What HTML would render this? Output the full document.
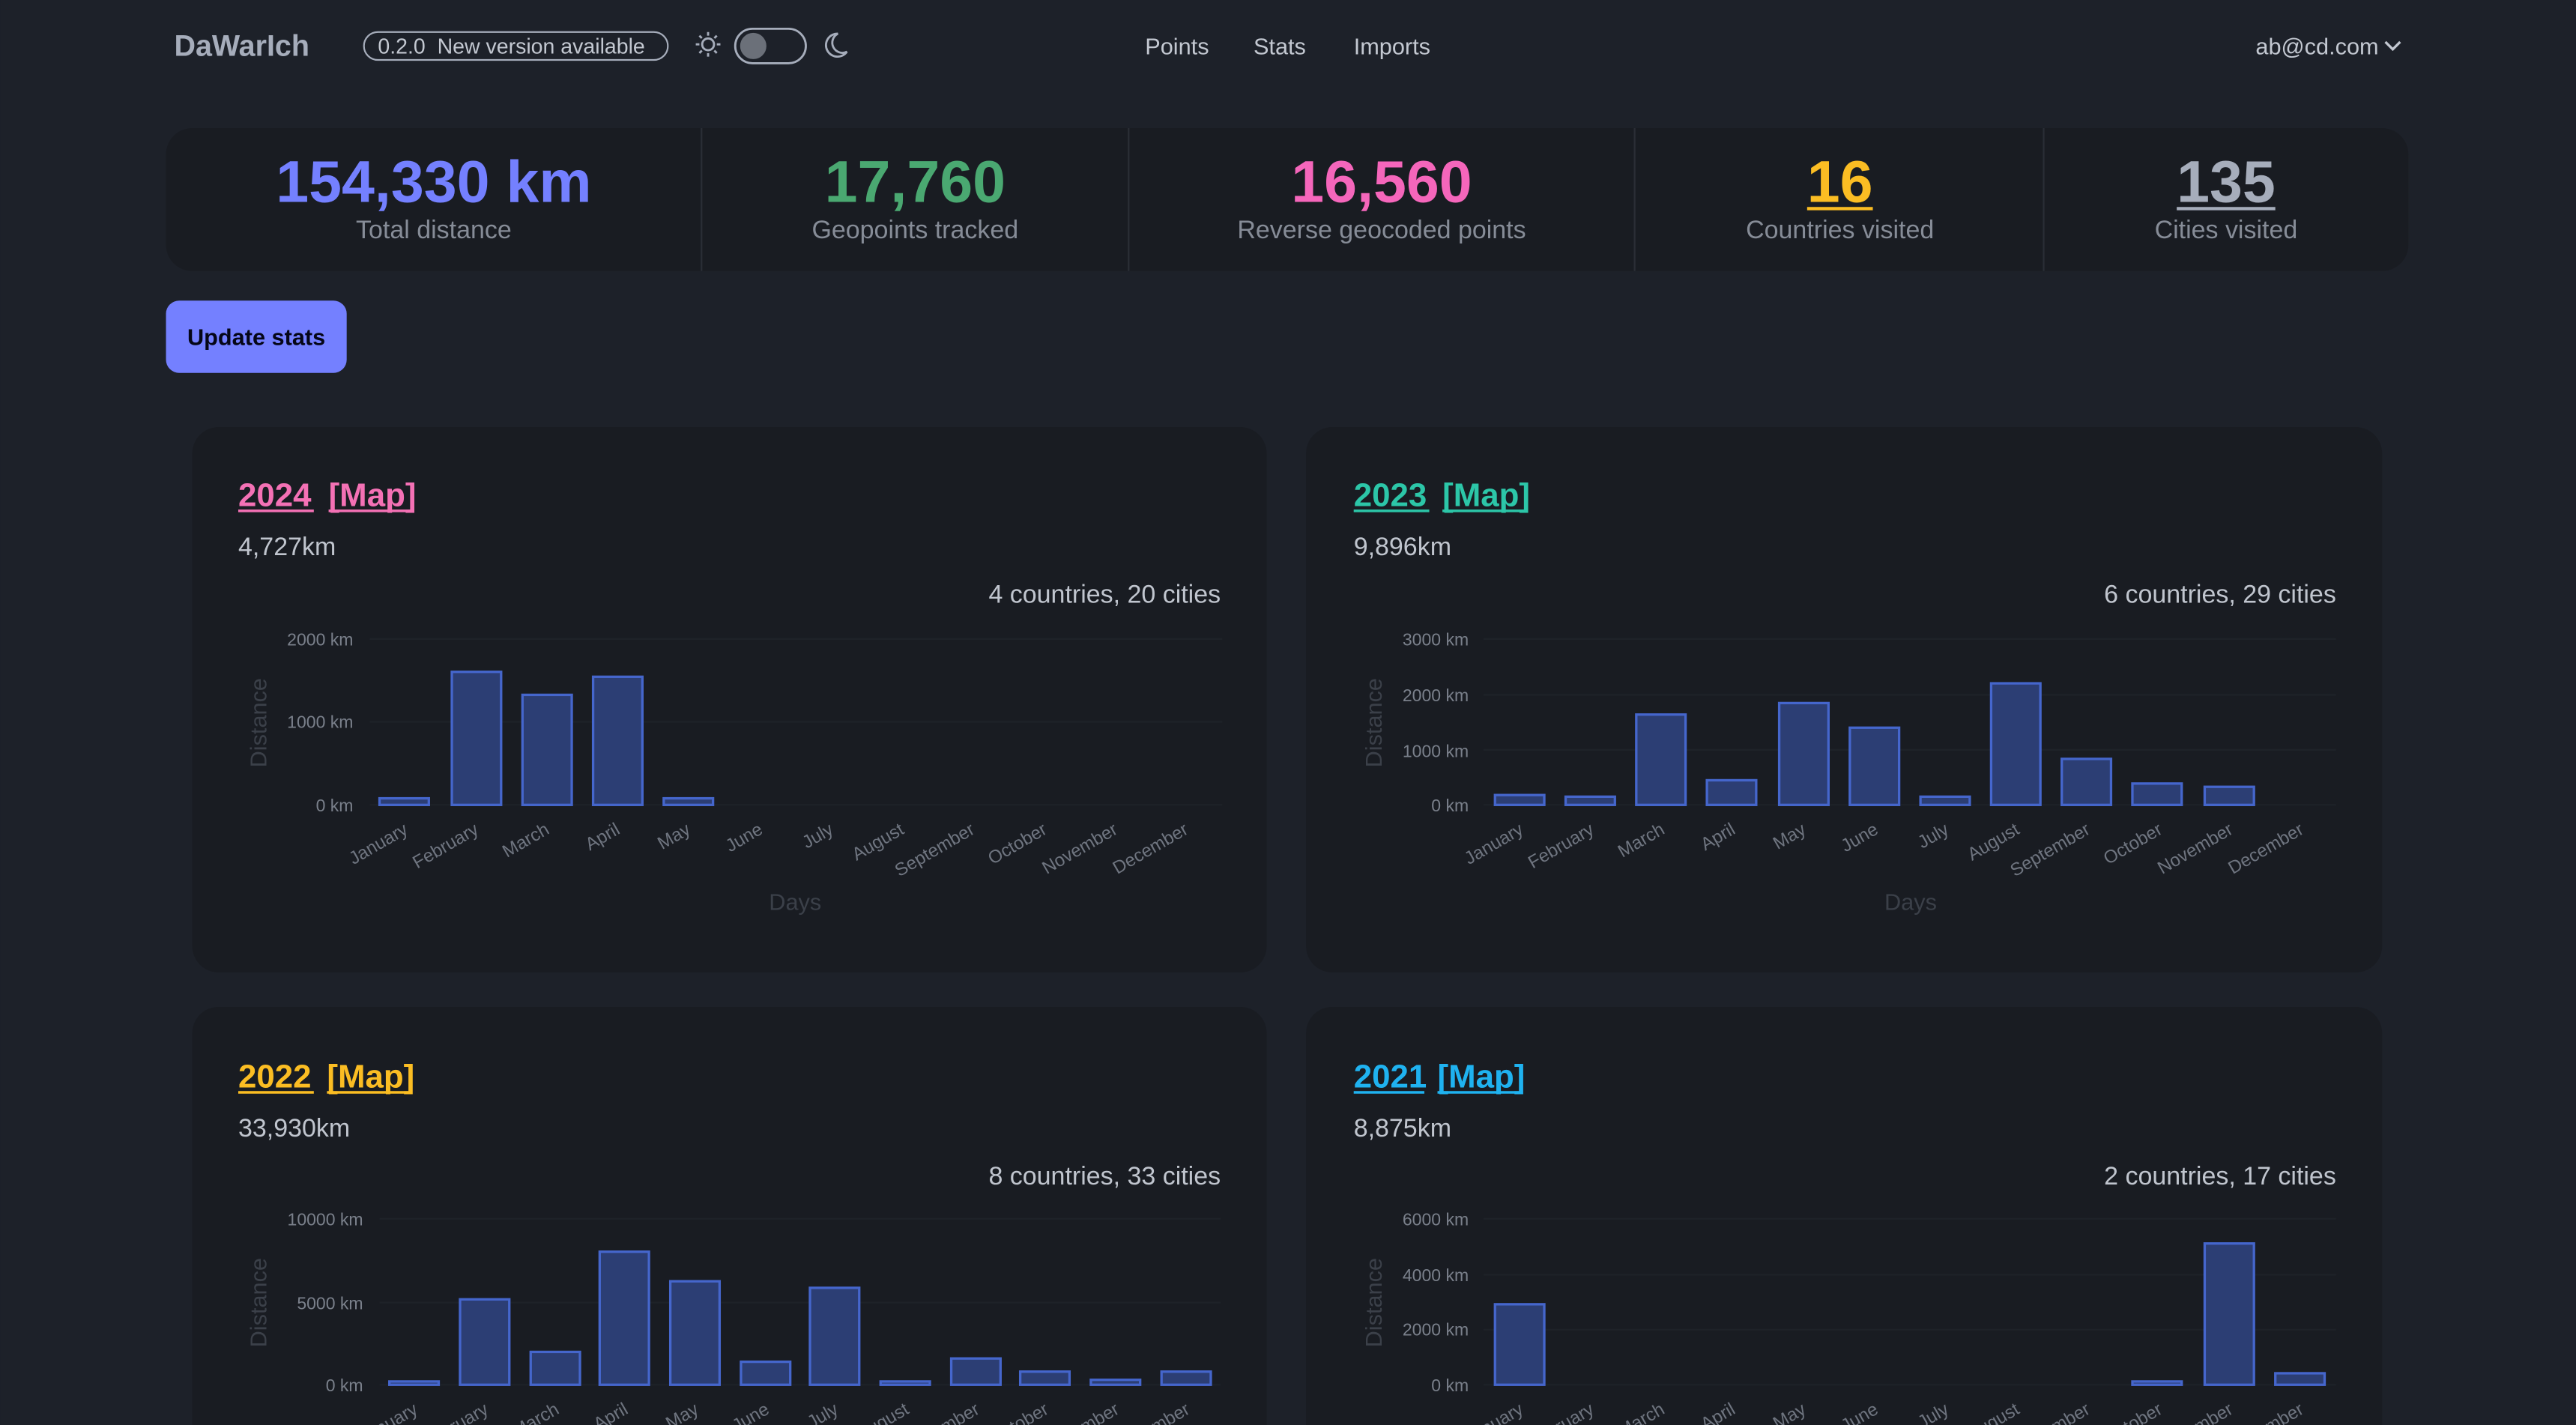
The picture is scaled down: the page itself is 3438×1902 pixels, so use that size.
<!DOCTYPE html>
<html><head><meta charset="utf-8"><style>
html,body{margin:0;padding:0;background:#1d2129;overflow:hidden;width:3438px;height:1902px}
svg{display:block}
text{font-family:"Liberation Sans",sans-serif}
</style></head><body>
<svg width="3438" height="1902" viewBox="0 0 1568 867.5" xmlns="http://www.w3.org/2000/svg">
<rect width="1568" height="868" fill="#1d2129"/>
<text x="106" y="34" font-size="18" font-weight="bold" fill="#a6adbb">DaWarIch</text>
<rect x="221.5" y="19.5" width="185" height="17" rx="8.5" fill="none" stroke="#a6adbb" stroke-width="1"/>
<text x="230" y="32.5" font-size="13" fill="#c3c8d1" xml:space="preserve">0.2.0  New version available</text>
<g stroke="#a6adbb" stroke-width="1.3" fill="none">
<circle cx="431" cy="27" r="3.6"/>
<path d="M431 19.5v2.2M431 32.3v2.2M423.5 27h2.2M436.3 27h2.2M425.7 21.7l1.5 1.5M434.8 30.8l1.5 1.5M425.7 32.3l1.5-1.5M434.8 23.2l1.5-1.5"/>
<rect x="447.5" y="17.5" width="43" height="21" rx="10.5"/>
<path d="M510 20.5a7 7 0 1 0 5.5 11 6 6 0 0 1 -5.5 -11z"/>
</g>
<circle cx="458.5" cy="28" r="8" fill="#6b7079"/>
<g font-size="14" fill="#c3c8d1">
<text x="697" y="33">Points</text>
<text x="763" y="33">Stats</text>
<text x="824" y="33">Imports</text>
<text x="1373" y="33">ab@cd.com</text>
</g>
<polyline points="1452,25.5 1456.5,30 1461,25.5" fill="none" stroke="#c3c8d1" stroke-width="1.5"/>
<rect x="101" y="78" width="1365" height="87" rx="16" fill="#191c22"/>
<g stroke="#2a2e36" stroke-width="1"><line x1="427" y1="78" x2="427" y2="165"/><line x1="687" y1="78" x2="687" y2="165"/><line x1="995" y1="78" x2="995" y2="165"/><line x1="1244" y1="78" x2="1244" y2="165"/></g>
<g font-size="36" font-weight="bold" text-anchor="middle">
<text x="264" y="123" fill="#7480ff">154,330 km</text>
<text x="557" y="123" fill="#4aa871">17,760</text>
<text x="841" y="123" fill="#f566bb">16,560</text>
<text x="1120" y="123" fill="#fbbd23">16</text>
<text x="1355" y="123" fill="#a6adbb">135</text>
</g>
<line x1="1100" y1="127" x2="1140" y2="127" stroke="#fbbd23" stroke-width="2"/>
<line x1="1325" y1="127" x2="1385" y2="127" stroke="#a6adbb" stroke-width="2"/>
<g font-size="15.5" text-anchor="middle" fill="#868c97">
<text x="264" y="145">Total distance</text>
<text x="557" y="145">Geopoints tracked</text>
<text x="841" y="145">Reverse geocoded points</text>
<text x="1120" y="145">Countries visited</text>
<text x="1355" y="145">Cities visited</text>
</g>
<rect x="101" y="183" width="110" height="44" rx="8" fill="#7480ff"/>
<text x="156" y="210" font-size="14" font-weight="bold" text-anchor="middle" fill="#050617">Update stats</text>
<rect x="117" y="260" width="654" height="332" rx="16" fill="#191c22"/>
<rect x="795" y="260" width="655" height="332" rx="16" fill="#191c22"/>
<rect x="117" y="613" width="654" height="332" rx="16" fill="#191c22"/>
<rect x="795" y="613" width="655" height="332" rx="16" fill="#191c22"/>
<g font-size="20" font-weight="bold">
<text x="145" y="308" fill="#f471b5">2024</text><text x="200" y="308" fill="#f471b5">[Map]</text>
<text x="824" y="308" fill="#2cc6a8">2023</text><text x="878" y="308" fill="#2cc6a8">[Map]</text>
<text x="145" y="662" fill="#fbbd23">2022</text><text x="199" y="662" fill="#fbbd23">[Map]</text>
<text x="824" y="662" fill="#1fb2f0">2021</text><text x="875" y="662" fill="#1fb2f0">[Map]</text>
</g>
<g stroke-width="1.6">
<line x1="145" y1="311" x2="191" y2="311" stroke="#f471b5"/><line x1="200" y1="311" x2="251" y2="311" stroke="#f471b5"/>
<line x1="824" y1="311" x2="870" y2="311" stroke="#2cc6a8"/><line x1="878" y1="311" x2="929" y2="311" stroke="#2cc6a8"/>
<line x1="145" y1="665" x2="191" y2="665" stroke="#fbbd23"/><line x1="199" y1="665" x2="250" y2="665" stroke="#fbbd23"/>
<line x1="824" y1="665" x2="867" y2="665" stroke="#1fb2f0"/><line x1="875" y1="665" x2="926" y2="665" stroke="#1fb2f0"/>
</g>
<g font-size="15.5" fill="#c0c5ce">
<text x="145" y="338">4,727km</text><text x="824" y="338">9,896km</text>
<text x="145" y="692">33,930km</text><text x="824" y="692">8,875km</text>
</g>
<g font-size="15.5" fill="#c0c5ce" text-anchor="end">
<text x="743" y="367">4 countries, 20 cities</text><text x="1422" y="367">6 countries, 29 cities</text>
<text x="743" y="721">8 countries, 33 cities</text><text x="1422" y="721">2 countries, 17 cities</text>
</g>
<g font-size="14" fill="#3b4049" text-anchor="middle">
<text transform="translate(162,440) rotate(-90)">Distance</text>
<text transform="translate(841,440) rotate(-90)">Distance</text>
<text transform="translate(162,793) rotate(-90)">Distance</text>
<text transform="translate(841,793) rotate(-90)">Distance</text>
<text x="484" y="554">Days</text><text x="1163" y="554">Days</text>
</g>
<g stroke="#1e2228" stroke-width="1">
<line x1="225" y1="389" x2="744" y2="389"/><line x1="225" y1="439.5" x2="744" y2="439.5"/><line x1="225" y1="490" x2="744" y2="490"/>
<line x1="903" y1="389" x2="1422" y2="389"/><line x1="903" y1="423" x2="1422" y2="423"/><line x1="903" y1="456.5" x2="1422" y2="456.5"/><line x1="903" y1="490" x2="1422" y2="490"/>
<line x1="231" y1="742" x2="743" y2="742"/><line x1="231" y1="793" x2="743" y2="793"/><line x1="231" y1="843" x2="743" y2="843"/>
<line x1="903" y1="742" x2="1422" y2="742"/><line x1="903" y1="776" x2="1422" y2="776"/><line x1="903" y1="809.5" x2="1422" y2="809.5"/><line x1="903" y1="843" x2="1422" y2="843"/>
</g>
<g font-size="10.5" fill="#7a808b" text-anchor="end">
<text x="215" y="393">2000 km</text><text x="215" y="443">1000 km</text><text x="215" y="494">0 km</text>
<text x="894" y="393">3000 km</text><text x="894" y="427">2000 km</text><text x="894" y="461">1000 km</text><text x="894" y="494">0 km</text>
<text x="221" y="746">10000 km</text><text x="221" y="797">5000 km</text><text x="221" y="847">0 km</text>
<text x="894" y="746">6000 km</text><text x="894" y="780">4000 km</text><text x="894" y="813">2000 km</text><text x="894" y="847">0 km</text>
</g>
<g fill="#2c3e74" stroke="#4566cc" stroke-width="1.5">
<rect x="231" y="486" width="30" height="4"/><rect x="275" y="409" width="30" height="81"/><rect x="318" y="423" width="30" height="67"/><rect x="361" y="412" width="30" height="78"/><rect x="404" y="486" width="30" height="4"/>
<rect x="910" y="484" width="30" height="6"/><rect x="953" y="485" width="30" height="5"/><rect x="996" y="435" width="30" height="55"/><rect x="1039" y="475" width="30" height="15"/><rect x="1083" y="428" width="30" height="62"/><rect x="1126" y="443" width="30" height="47"/><rect x="1169" y="485" width="30" height="5"/><rect x="1212" y="416" width="30" height="74"/><rect x="1255" y="462" width="30" height="28"/><rect x="1298" y="477" width="30" height="13"/><rect x="1342" y="479" width="30" height="11"/>
<rect x="237" y="841" width="30" height="2"/><rect x="280" y="791" width="30" height="52"/><rect x="323" y="823" width="30" height="20"/><rect x="365" y="762" width="30" height="81"/><rect x="408" y="780" width="30" height="63"/><rect x="451" y="829" width="30" height="14"/><rect x="493" y="784" width="30" height="59"/><rect x="536" y="841" width="30" height="2"/><rect x="579" y="827" width="30" height="16"/><rect x="621" y="835" width="30" height="8"/><rect x="664" y="840" width="30" height="3"/><rect x="707" y="835" width="30" height="8"/>
<rect x="910" y="794" width="30" height="49"/><rect x="1298" y="841" width="30" height="2"/><rect x="1342" y="757" width="30" height="86"/><rect x="1385" y="836" width="30" height="7"/>
</g>
<g font-size="11" fill="#6f7580" text-anchor="end">
<text transform="translate(249,507) rotate(-30)">January</text><text transform="translate(292,507) rotate(-30)">February</text><text transform="translate(335,507) rotate(-30)">March</text><text transform="translate(378,507) rotate(-30)">April</text><text transform="translate(421,507) rotate(-30)">May</text><text transform="translate(465,507) rotate(-30)">June</text><text transform="translate(508,507) rotate(-30)">July</text><text transform="translate(551,507) rotate(-30)">August</text><text transform="translate(594,507) rotate(-30)">September</text><text transform="translate(638,507) rotate(-30)">October</text><text transform="translate(681,507) rotate(-30)">November</text><text transform="translate(724,507) rotate(-30)">December</text>
<text transform="translate(928,507) rotate(-30)">January</text><text transform="translate(971,507) rotate(-30)">February</text><text transform="translate(1014,507) rotate(-30)">March</text><text transform="translate(1057,507) rotate(-30)">April</text><text transform="translate(1100,507) rotate(-30)">May</text><text transform="translate(1144,507) rotate(-30)">June</text><text transform="translate(1187,507) rotate(-30)">July</text><text transform="translate(1230,507) rotate(-30)">August</text><text transform="translate(1273,507) rotate(-30)">September</text><text transform="translate(1317,507) rotate(-30)">October</text><text transform="translate(1360,507) rotate(-30)">November</text><text transform="translate(1403,507) rotate(-30)">December</text>
<text transform="translate(255,860) rotate(-30)">January</text><text transform="translate(298,860) rotate(-30)">February</text><text transform="translate(341,860) rotate(-30)">March</text><text transform="translate(383,860) rotate(-30)">April</text><text transform="translate(426,860) rotate(-30)">May</text><text transform="translate(469,860) rotate(-30)">June</text><text transform="translate(511,860) rotate(-30)">July</text><text transform="translate(554,860) rotate(-30)">August</text><text transform="translate(597,860) rotate(-30)">September</text><text transform="translate(639,860) rotate(-30)">October</text><text transform="translate(682,860) rotate(-30)">November</text><text transform="translate(725,860) rotate(-30)">December</text>
<text transform="translate(928,860) rotate(-30)">January</text><text transform="translate(971,860) rotate(-30)">February</text><text transform="translate(1014,860) rotate(-30)">March</text><text transform="translate(1057,860) rotate(-30)">April</text><text transform="translate(1100,860) rotate(-30)">May</text><text transform="translate(1144,860) rotate(-30)">June</text><text transform="translate(1187,860) rotate(-30)">July</text><text transform="translate(1230,860) rotate(-30)">August</text><text transform="translate(1273,860) rotate(-30)">September</text><text transform="translate(1317,860) rotate(-30)">October</text><text transform="translate(1360,860) rotate(-30)">November</text><text transform="translate(1403,860) rotate(-30)">December</text>
</g>
</svg>
</body></html>
